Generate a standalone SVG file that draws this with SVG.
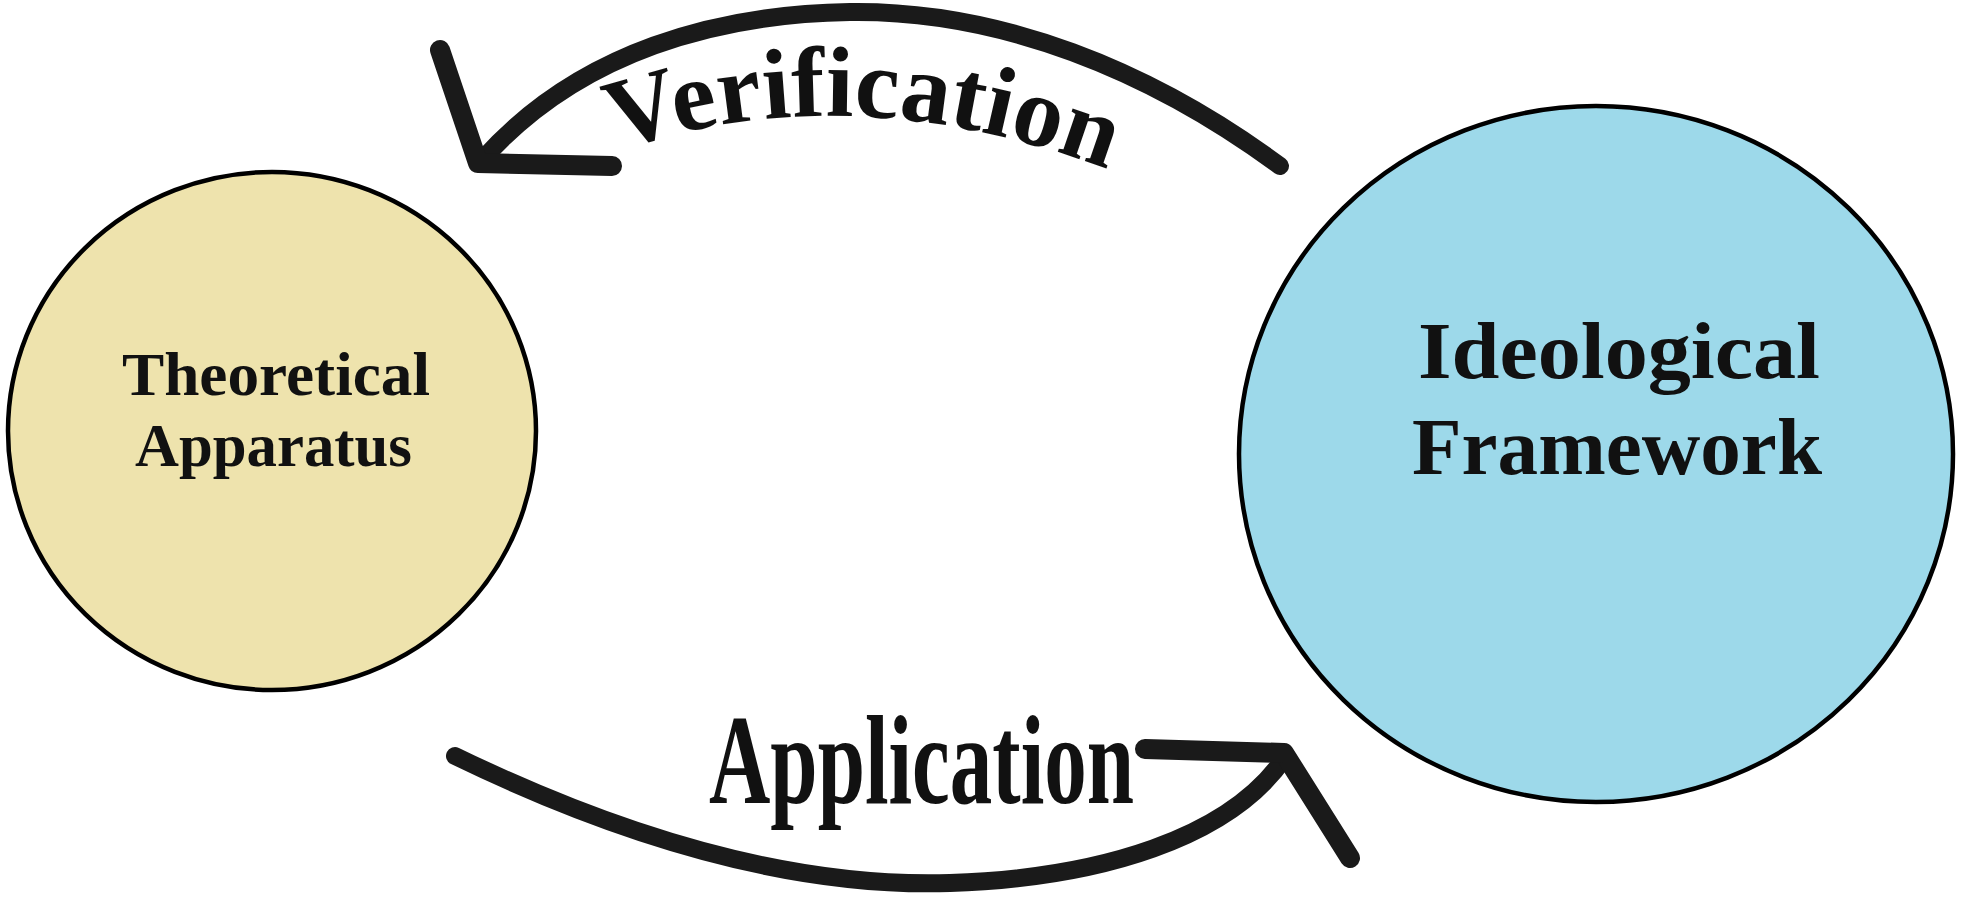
<svg xmlns="http://www.w3.org/2000/svg" width="1964" height="902" viewBox="0 0 1964 902">
<style>
.node{stroke:#000;stroke-width:4.5}
.label{font-family:"Liberation Serif","Times New Roman",serif;font-weight:bold;fill:#111}
.arc{fill:none;stroke:#1a1a1a;stroke-width:18;stroke-linecap:round;stroke-linejoin:round}
.head{fill:none;stroke:#1a1a1a;stroke-width:20;stroke-linecap:round;stroke-linejoin:round}
</style>
<defs>
<path id="verif-base" d="M590,160 Q850,62 1140,182"/>
</defs>
<rect width="1964" height="902" fill="#fff"/>
<g id="theoretical-apparatus">
<ellipse cx="272" cy="431" rx="264" ry="259" fill="#EEE3AD" class="node"/>
<text class="label" font-size="62" x="122" y="395" textLength="308" lengthAdjust="spacingAndGlyphs">Theoretical</text>
<text class="label" font-size="62" x="135" y="466" textLength="277" lengthAdjust="spacingAndGlyphs">Apparatus</text>
</g>
<g id="ideological-framework">
<ellipse cx="1596" cy="454" rx="357" ry="348" fill="#9DD9EA" class="node"/>
<text class="label" font-size="80" x="1418" y="378" textLength="402" lengthAdjust="spacingAndGlyphs">Ideological</text>
<text class="label" font-size="80" x="1412" y="474" textLength="410" lengthAdjust="spacingAndGlyphs">Framework</text>
</g>
<g id="connectors">
<g id="verification">
<path class="arc" d="M1280,166 C1150,70 1000,10 850,12 C720,14 580,50 482,160"/>
<path class="head" d="M440,50 L478,163 L612,166"/>
<text class="label" font-size="100"><textPath href="#verif-base" startOffset="28">Verification</textPath></text>
</g>
<g id="application">
<path class="arc" d="M455,756 C620,836 790,888 950,883 C1100,878 1230,838 1285,757"/>
<path class="head" d="M1145,749 L1284,753 L1350,858"/>
<text class="label" font-size="128" x="709" y="803" textLength="425" lengthAdjust="spacingAndGlyphs">Application</text>
</g>
</g>
</svg>
